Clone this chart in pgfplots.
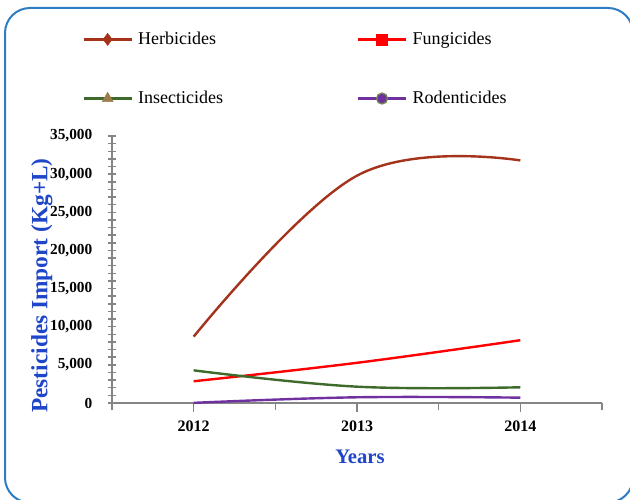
\documentclass[border=0pt]{standalone}
\usepackage{fontspec}
\setmainfont{Liberation Serif}
\usepackage{pgfplots}
\pgfplotsset{compat=1.18}
\definecolor{herb}{HTML}{A5331B}
\definecolor{fung}{HTML}{FF0000}
\definecolor{insect}{HTML}{3E6B2B}
\definecolor{insmark}{HTML}{9C7E4C}
\definecolor{rodent}{HTML}{7030A0}
\definecolor{rodedge}{HTML}{6E8B50}
\definecolor{lblue}{HTML}{1F45C8}
\definecolor{bordblue}{HTML}{2E7CC4}
\definecolor{axgray}{HTML}{858585}
\newcommand{\lgw}[1]{\makebox[164pt][l]{#1}}

\begin{document}
\begin{tikzpicture}
\useasboundingbox (0,0) rectangle (472.5pt,374.25pt);
\draw[bordblue, line width=1.5pt, rounded corners=18.75pt]
  (3.75pt,368.25pt) rectangle (474.75pt,-2.7pt);
\begin{axis}[
    at={(84pt,72pt)}, anchor=south west,
    scale only axis, width=367.5pt, height=200.25pt,
    xmin=-0.5, xmax=2.5, ymin=0, ymax=35000,
    axis lines*=left,
    axis line style={axgray, line width=1.3pt},
    xtick={0,1,2}, xticklabels={2012,2013,2014},
    minor xtick={-0.5,0.5,1.5,2.5},
    ytick distance=5000, minor y tick num=4,
    xtick align=outside, ytick align=center,
    major tick length=6.5pt, minor tick length=5.5pt,
    tick style={axgray, line width=1.1pt},
    scaled y ticks=false,
    /pgf/number format/assume math mode=true,
    /pgf/number format/.cd, 1000 sep={,}, /pgfplots/.cd,
    xticklabel style={font=\bfseries\fontsize{12}{14}\selectfont, yshift=-3.5pt},
    yticklabel style={font=\bfseries\fontsize{11.5}{13}\selectfont, xshift=-8pt},
    xlabel={Years},
    xlabel style={font=\bfseries\fontsize{15.5}{18}\selectfont, color=lblue,
                  at={(axis description cs:0.506,-0.202)}, anchor=center},
    ylabel={Pesticides Import (Kg+L)},
    ylabel style={font=\bfseries\fontsize{17.5}{19}\selectfont, color=lblue,
                  at={(axis description cs:-0.143,0.44)}, anchor=center},
    legend columns=2,
    legend cell align=left,
    legend style={at={(axis description cs:-0.069,1.40)}, anchor=north west,
                  draw=none, fill=none, row sep=33.5pt,
                  font=\fontsize{13.5}{15}\selectfont,
                  nodes={inner sep=0pt},
                  /tikz/every odd column/.append style={column sep=4pt}},
    legend image code/.code={\draw[mark repeat=2,mark phase=2,#1]
        plot coordinates {(0pt,0pt) (18pt,0pt) (36pt,0pt)};},
    clip=false,
]
\addlegendimage{herb, line width=1.8pt, mark=diamond*, mark size=4.5pt,
    mark options={solid, fill=herb, draw=herb, line width=0.4pt}}
\addlegendentry{\lgw{Herbicides}}
\addlegendimage{fung, line width=1.8pt, mark=square*, mark size=4.1pt,
    mark options={solid, fill=fung, draw=fung, line width=0.4pt}}
\addlegendentry{Fungicides}
\addlegendimage{insect, line width=1.8pt, mark=triangle*, mark size=4.7pt,
    mark options={solid, fill=insmark, draw=insmark, line width=0.4pt}}
\addlegendentry{\lgw{Insecticides}}
\addlegendimage{rodent, line width=1.8pt, mark=*, mark size=4.1pt,
    mark options={solid, fill=rodent, draw=rodedge, line width=1pt}}
\addlegendentry{Rodenticides}

% Herbicides
\addplot[herb, line width=1.8pt, smooth, tension=0.65, forget plot]
  coordinates {(0,8700) (1,29800) (2,31800)};
% Fungicides
\addplot[fung, line width=1.8pt, smooth, tension=0.65, forget plot]
  coordinates {(0,2850) (1,5270) (2,8230)};
% Insecticides
\addplot[insect, line width=1.8pt, smooth, tension=0.65, forget plot]
  coordinates {(0,4280) (1,2140) (2,2060)};
% Rodenticides
\addplot[rodent, line width=1.8pt, smooth, tension=0.65, forget plot]
  coordinates {(0,20) (1,750) (2,700)};
\end{axis}
\end{tikzpicture}
\end{document}
